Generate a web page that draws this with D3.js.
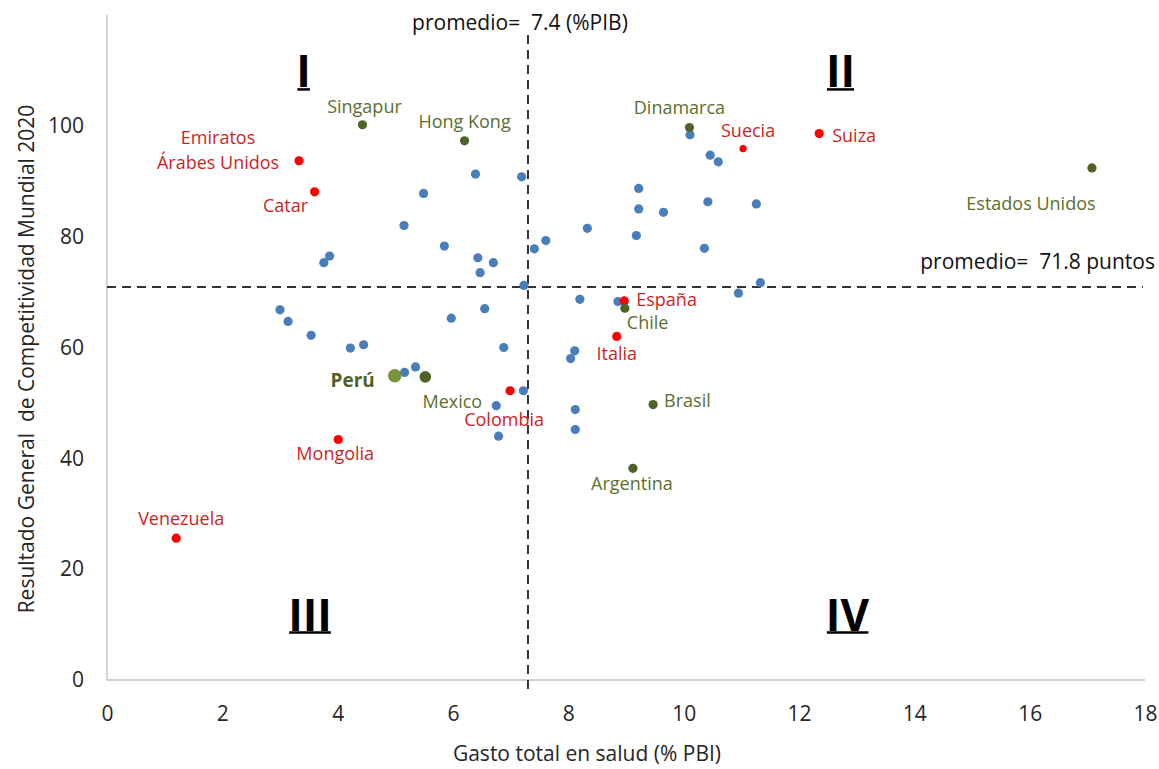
<!DOCTYPE html>
<html><head><meta charset="utf-8">
<script src="https://cdn.jsdelivr.net/npm/d3@7"></script>
<style>
body{margin:0;background:#fff;}
text{font-family:"Open Sans","Noto Sans",sans-serif;}
</style></head>
<body>
<svg id="c" width="1159" height="769"></svg>
<script>
// ---- data ----
const xTicks = [0,2,4,6,8,10,12,14,16,18];
const yTicks = [0,20,40,60,80,100];
const otherX = [6.39,7.19,5.49,5.15,5.85,7.61,7.41,3.86,3.76,6.43,6.70,6.47,7.23,10.11,10.46,10.60,9.22,9.22,9.65,10.42,11.26,8.33,9.18,10.36,11.33,10.95,3.00,3.14,3.54,4.22,4.45,5.97,6.55,6.88,5.16,5.35,7.22,6.75,6.79,8.20,8.86,8.11,8.04,8.12,8.12];
const otherY = [91.3,90.8,87.8,82.0,78.3,79.3,77.8,76.5,75.3,76.2,75.3,73.5,71.2,98.4,94.7,93.5,88.7,85.0,84.4,86.3,85.9,81.5,80.2,77.9,71.7,69.8,66.8,64.7,62.2,59.9,60.5,65.3,67.0,60.0,55.5,56.5,52.2,49.5,44.0,68.7,68.3,59.4,58.0,48.8,45.2];
const redNames = ["Emiratos\nÁrabes Unidos","Catar","Suecia","Suiza","España","Italia","Colombia","Mongolia","Venezuela"];
const redX = [3.33,3.60,11.03,12.35,8.97,8.84,6.99,4.01,1.20];
const redY = [93.7,88.1,95.9,98.6,68.4,62.0,52.2,43.4,25.6];
const greenNames = ["Singapur","Hong Kong","Dinamarca","Estados Unidos","Chile","Brasil","Argentina","Mexico"];
const greenX = [4.43,6.20,10.10,17.08,8.98,9.47,9.12,5.52];
const greenY = [100.2,97.3,99.7,92.4,67.1,49.7,38.2,54.7];
const peruX = 4.99, peruY = 54.9;
const avgX = 7.3, avgY = 70.9;
const avgXLabel = "promedio=  7.4 (%PIB)";
const avgYLabel = "promedio=  71.8 puntos";
const quadrants = [["I",3.41,110],["II",12.72,110],["III",3.52,12],["IV",12.84,12]];

// ---- layout / style ----
const labelPos = {
  "Emiratos\nÁrabes Unidos":[-81,-24,"middle"],"Catar":[-29,13,"middle"],"Suecia":[5,-19,"middle"],
  "Suiza":[13,1,"start"],"España":[12,-2,"start"],"Italia":[0,17,"middle"],"Colombia":[-6,28,"middle"],
  "Mongolia":[-3,14,"middle"],"Venezuela":[5,-20,"middle"],
  "Singapur":[2,-19,"middle"],"Hong Kong":[0,-20,"middle"],"Dinamarca":[-10,-20,"middle"],
  "Estados Unidos":[-61,35,"middle"],"Chile":[2,14,"start"],"Brasil":[11,-5,"start"],
  "Argentina":[-1,15,"middle"],"Mexico":[27,24,"middle"]
};
const svg = d3.select("#c");
const x = d3.scaleLinear().domain([0,18]).range([107,1145]);
const y = d3.scaleLinear().domain([0,120]).range([680,15]);

// axes
svg.append("line").attr("x1",x(0)).attr("x2",x(0)).attr("y1",y(120)).attr("y2",y(0)).attr("stroke","#bfbfbf").attr("stroke-width",1.3);
svg.append("line").attr("x1",x(0)).attr("x2",x(18)).attr("y1",y(0)).attr("y2",y(0)).attr("stroke","#bfbfbf").attr("stroke-width",1.3);
const xa = svg.append("g").attr("transform",`translate(0,${y(0)})`).call(d3.axisBottom(x).tickValues(xTicks).tickSize(0).tickPadding(26));
const ya = svg.append("g").attr("transform",`translate(${x(0)},0)`).call(d3.axisLeft(y).tickValues(yTicks).tickSize(0).tickPadding(23));
[xa,ya].forEach(g=>{g.select(".domain").remove();g.selectAll("text").attr("font-size",21).attr("fill","#262626").attr("font-family","'Open Sans',sans-serif");});

svg.append("text").attr("x",587).attr("y",761).attr("text-anchor","middle").attr("font-size",21).attr("fill","#262626").text("Gasto total en salud (% PBI)");
svg.append("text").attr("transform","translate(34,359) rotate(-90)").attr("text-anchor","middle").attr("font-size",21).attr("fill","#262626").attr("xml:space","preserve").text("Resultado General  de Competitividad Mundial 2020");

// average lines
svg.append("line").attr("x1",x(avgX)).attr("x2",x(avgX)).attr("y1",35).attr("y2",690).attr("stroke","#333").attr("stroke-width",2).attr("stroke-dasharray","9,6");
svg.append("line").attr("x1",x(0)).attr("x2",1143).attr("y1",y(avgY)).attr("y2",y(avgY)).attr("stroke","#333").attr("stroke-width",2).attr("stroke-dasharray","9,6");
svg.append("text").attr("x",x(avgX)-8).attr("y",29.5).attr("text-anchor","middle").attr("font-size",21).attr("fill","#111").attr("xml:space","preserve").text(avgXLabel);
svg.append("text").attr("x",1155).attr("y",268.5).attr("text-anchor","end").attr("font-size",21).attr("fill","#111").attr("xml:space","preserve").text(avgYLabel);

// quadrant labels
quadrants.forEach(([t,qx,qy])=>{
  const tx = svg.append("text").attr("x",x(qx)).attr("y",y(qy)).attr("text-anchor","middle")
    .attr("font-family","'Liberation Sans Narrow','Liberation Sans',sans-serif").attr("font-weight","bold")
    .attr("font-size",44).attr("fill","#000").attr("dominant-baseline","central").text(t);
  const bb = tx.node().getBBox();
  svg.append("line").attr("x1",bb.x+1).attr("x2",bb.x+bb.width-1).attr("y1",y(qy)+19).attr("y2",y(qy)+19).attr("stroke","#000").attr("stroke-width",2.5);
});

// points
svg.append("g").selectAll("circle").data(d3.range(otherX.length)).join("circle")
  .attr("cx",i=>x(otherX[i])).attr("cy",i=>y(otherY[i])).attr("r",4.6).attr("fill","#4a7ebb");
svg.append("g").selectAll("circle").data(d3.range(redX.length)).join("circle")
  .attr("cx",i=>x(redX[i])).attr("cy",i=>y(redY[i])).attr("r",i=>redNames[i]==="Suecia"?3.6:4.6).attr("fill","#ff0000");
svg.append("g").selectAll("circle").data(d3.range(greenX.length)).join("circle")
  .attr("cx",i=>x(greenX[i])).attr("cy",i=>y(greenY[i])).attr("r",i=>greenNames[i]==="Mexico"?5.8:4.6).attr("fill","#4f6228");
svg.append("circle").attr("cx",x(peruX)).attr("cy",y(peruY)).attr("r",6.8).attr("fill","#77933c");

function addLabels(names,xs,ys,color){
  names.forEach((n,i)=>{
    const [dx,dy,anc] = labelPos[n];
    const lines = n.split("\n");
    lines.forEach((ln,k)=>{
      svg.append("text").attr("x",x(xs[i])+dx).attr("y",y(ys[i])+dy+k*25).attr("text-anchor",anc)
        .attr("dominant-baseline","central").attr("font-size",18).attr("fill",color).text(ln);
    });
  });
}
addLabels(redNames,redX,redY,"#cc1f1f");
addLabels(greenNames,greenX,greenY,"#5b6f30");
svg.append("text").attr("x",x(peruX)-20).attr("y",y(peruY)+4).attr("text-anchor","end").attr("dominant-baseline","central")
  .attr("font-size",19).attr("font-weight","bold").attr("fill","#4f6228").text("Perú");
</script>
</body></html>
